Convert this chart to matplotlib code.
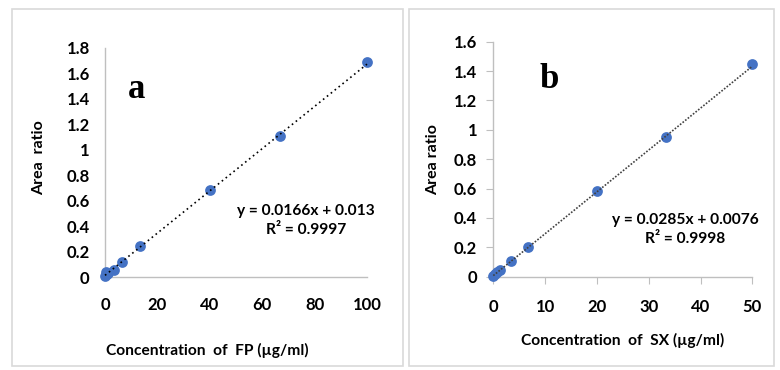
import matplotlib
matplotlib.use("Agg")
import matplotlib.pyplot as plt
from matplotlib.patches import Rectangle
import numpy as np

# ---- data ----
fp_conc = [0, 0.33, 0.67, 1.33, 3.33, 6.67, 13.33, 40, 66.67, 100]
fp_ratio = [0.005, 0.04, 0.02, 0.035, 0.055, 0.12, 0.24, 0.68, 1.11, 1.69]
fp_slope, fp_intercept = 0.0166, 0.013
fp_eq = "y = 0.0166x + 0.013"
fp_r2 = "R\u00b2 = 0.9997"
fp_xticks = [0, 20, 40, 60, 80, 100]
fp_yticks = [0, 0.2, 0.4, 0.6, 0.8, 1, 1.2, 1.4, 1.6, 1.8]
fp_xlabel = "Concentration  of  FP (\u00b5g/ml)"
fp_ylabel = "Area  ratio"

sx_conc = [0, 0.33, 0.67, 1.33, 3.33, 6.67, 20, 33.33, 50]
sx_ratio = [0.005, 0.015, 0.03, 0.045, 0.11, 0.2, 0.585, 0.953, 1.448]
sx_slope, sx_intercept = 0.0285, 0.0076
sx_eq = "y = 0.0285x + 0.0076"
sx_r2 = "R\u00b2 = 0.9998"
sx_xticks = [0, 10, 20, 30, 40, 50]
sx_yticks = [0, 0.2, 0.4, 0.6, 0.8, 1, 1.2, 1.4, 1.6]
sx_xlabel = "Concentration  of  SX (\u00b5g/ml)"
sx_ylabel = "Area ratio"

W, H = 780, 370
plt.rcParams['font.family'] = ['Lato', 'DejaVu Sans']
fig = plt.figure(figsize=(W / 100, H / 100), dpi=100)

def fx(px):
    return px / W

def fy(py):
    return (H - py) / H

# panel frames
for (x0, y0, x1, y1) in [(12, 9, 403, 366), (409, 9, 774, 366)]:
    fig.patches.append(Rectangle((fx(x0), fy(y1)), fx(x1) - fx(x0), fy(y0) - fy(y1),
                                 transform=fig.transFigure, fill=False,
                                 edgecolor='#D9D9D9', lw=1.2))

blue = '#4472C4'
gray = '#BFBFBF'

def fmt(v):
    return ('%g' % v)

def make_panel(rect, x, y, slope, intercept, xlim, ylim, xticks, yticks,
               ticks_visible, xlabel, ylabel, letter, letter_pos, eq, r2, eq_pos,
               line_style, line_color, xlabel_pos, ylabel_pos, ypad, xpad):
    tl = 5 if ticks_visible else 0
    l, b, r, t = rect
    ax = fig.add_axes([fx(l), fy(b), fx(r) - fx(l), fy(t) - fy(b)])
    ax.set_xlim(*xlim)
    ax.set_ylim(*ylim)
    for s in ['top', 'right']:
        ax.spines[s].set_visible(False)
    for s in ['left', 'bottom']:
        ax.spines[s].set_color(gray)
        ax.spines[s].set_linewidth(1.0)
    ax.set_xticks(xticks)
    ax.set_yticks(yticks)
    ax.set_xticklabels([fmt(v) for v in xticks], fontweight='bold')
    ax.set_yticklabels([fmt(v) for v in yticks], fontweight='bold')
    ax.tick_params(axis='x', direction='out', length=tl, color=gray,
                   labelsize=12, labelcolor='#000000', pad=xpad)
    ax.tick_params(axis='y', direction='out', length=tl, color=gray,
                   labelsize=12, labelcolor='#000000', pad=ypad)
    ax.set_facecolor('none')
    ax.scatter(x, y, s=60, color=blue, zorder=3, clip_on=False, linewidths=0)
    xs = np.array([0, max(x)])
    ax.plot(xs, slope * xs + intercept, linestyle=line_style, color=line_color,
            lw=1.2, zorder=4, clip_on=False)
    fig.text(fx(xlabel_pos[0]), fy(xlabel_pos[1]), xlabel, ha='center', va='center',
             fontsize=11.2, fontweight='bold')
    fig.text(fx(ylabel_pos[0]), fy(ylabel_pos[1]), ylabel, ha='center', va='center',
             fontsize=11.5, fontweight='bold', rotation=90)
    fig.text(fx(letter_pos[0]), fy(letter_pos[1]), letter, ha='center', va='center',
             fontsize=25, fontweight='bold', family='Liberation Serif')
    fig.text(fx(eq_pos[0]), fy(eq_pos[1]), eq, ha='center', va='center',
             fontsize=11.2, fontweight='bold')
    fig.text(fx(eq_pos[0]), fy(eq_pos[1] + 19), r2, ha='center', va='center',
             fontsize=11.2, fontweight='bold')
    return ax

make_panel((105, 277, 367, 48), fp_conc, fp_ratio, fp_slope, fp_intercept,
           (0, 100), (0, 1.8), fp_xticks, fp_yticks, False,
           fp_xlabel, fp_ylabel, 'a', (137, 89), fp_eq, fp_r2, (306, 211),
           (0, (1, 2)), '#000000', (207, 350), (39, 158), 11, 14.5)

make_panel((493.3, 276.7, 752.3, 41.7), sx_conc, sx_ratio, sx_slope, sx_intercept,
           (0, 50), (0, 1.6), sx_xticks, sx_yticks, True,
           sx_xlabel, sx_ylabel, 'b', (549, 79), sx_eq, sx_r2, (685, 220),
           (0, (1, 1)), '#404040', (623, 340), (433, 160), 6.5, 11)

fig.savefig('out.png', dpi=100, facecolor='white')
